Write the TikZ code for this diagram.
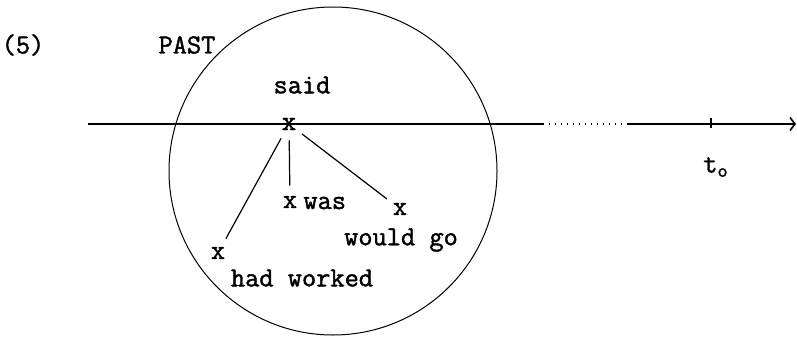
\documentclass[tikz,border=0pt]{standalone}
\usepackage{fontspec}
\setmonofont[FakeBold=1.5]{Latin Modern Mono}
\usetikzlibrary{arrows.meta}
\tikzset{
  lbl/.style  ={inner sep=0pt, font=\ttfamily\fontsize{13.8}{15}\selectfont},
  tmark/.style={lbl, circle, minimum size=16pt},
  axis/.style ={line width=0.8pt},
  branch/.style={line width=0.6pt},
  % the part of the time line that is left out
  gap/.style  ={line width=0.6pt, dash pattern=on 0.7pt off 2.3pt},
}
\begin{document}
\begin{tikzpicture}[x=0.5pt,y=-0.5pt]
\useasboundingbox (0,0) rectangle (797,337);
\coordinate (axL) at (88,124);
\coordinate (dotA) at (543,124);
\coordinate (dotB) at (627,124);
\coordinate (axR) at (796,124);
\coordinate (tick) at (711,124);
\coordinate (ctr) at (333,171);
\draw[line width=0.5pt] (ctr) circle[radius=164];
\draw[axis] (axL) -- (dotA);
\draw[gap] (dotA) -- (dotB);
\draw[axis,-{Straight Barb[length=2.5pt,width=6.5pt]}] (dotB) -- (axR);
\draw[line width=1.3pt] (tick) ++(0,-6) -- ++(0,10);
\node[lbl] (t0) at (716,167) {t\textsubscript{o}};
\node[lbl] (num) at (23,45) {(5)};
\node[lbl] (past) at (187,45) {PAST};
\node[tmark,font=\ttfamily\fontsize{14}{14}\selectfont] (said) at (289,124) {x};
\node[lbl] (saidlbl) at (302,85) {said};
\node[tmark] (was) at (290,202) {x};
\node[lbl,anchor=west] (waslbl) at (303,203) {was};
\node[tmark] (wouldgo) at (400,209) {x};
\node[lbl] (wouldgolbl) at (401,240) {would go};
\node[tmark] (hadworked) at (218,253) {x};
\node[lbl] (hadworkedlbl) at (302,278) {had worked};
\draw[branch] (said) -- (hadworked);
\draw[branch] (said) -- (was);
\draw[branch] (said) -- (wouldgo);
\end{tikzpicture}
\end{document}
